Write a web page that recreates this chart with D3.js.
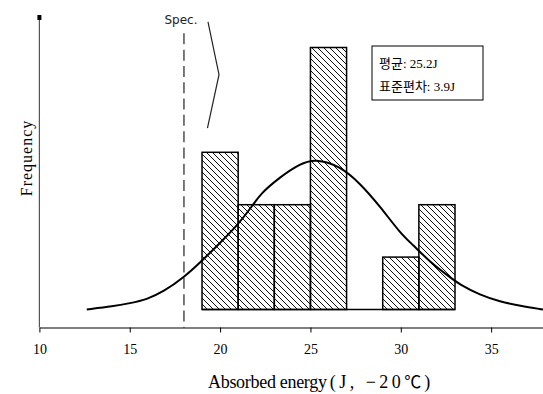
<!DOCTYPE html>
<html>
<head>
<meta charset="utf-8">
<script src="https://cdn.jsdelivr.net/npm/d3@7"></script>
<style>
  body { margin: 0; background: #fff; }
  svg { display: block; }
  .serif { font-family: "Liberation Serif", "DejaVu Serif", "Noto Sans CJK KR", serif; }
</style>
</head>
<body>
<script>
// histogram bins (J) and counts
var binStarts = [19, 21, 23, 25, 27, 29, 31];
var binWidth = 2;
var counts = [3, 2, 2, 5, 0, 1, 2];

// fitted curve (J, frequency)
var curveJ = [12.62, 14.09, 15.01, 15.94, 16.86, 17.96, 19.06, 19.99, 20.92, 21.84, 22.21, 23.32, 24.42, 25.25, 26.64, 27.74, 28.85, 29.96, 30.68, 31.61, 32.55, 33.28, 34.38, 35.49, 36.6, 37.87];
var curveF = [0, 0.06, 0.12, 0.19, 0.34, 0.60, 0.95, 1.27, 1.59, 2.0, 2.2, 2.53, 2.78, 2.88, 2.74, 2.41, 1.97, 1.46, 1.23, 0.91, 0.66, 0.47, 0.28, 0.15, 0.07, 0];

var xTicks = [10, 15, 20, 25, 30, 35];
var specValue = 18;
var statLines = ["평균: 25.2J", "표준편차: 3.9J"];

var width = 543, height = 394;

var svg = d3.select("body")
  .append("svg")
    .attr("width", width)
    .attr("height", height);

var x = d3.scaleLinear().domain([10, 37.87]).range([39.4, 543]);
var y = d3.scaleLinear().domain([0, 5]).range([309.5, 47.5]);
var axisY = 327.5;

// hatch pattern
var pat = svg.append("defs").append("pattern")
    .attr("id", "hatch")
    .attr("patternUnits", "userSpaceOnUse")
    .attr("width", 6)
    .attr("height", 6);
pat.append("path")
    .attr("d", "M-1,-1 L7,7 M-1,5 L1,7 M5,-1 L7,1")
    .style("stroke", "#111")
    .style("stroke-width", 1);

// bars
svg.selectAll("rect.bar")
  .data(binStarts.map(function(b, i) { return {b: b, c: counts[i]}; }).filter(function(d) { return d.c > 0; }))
  .enter().append("rect")
    .attr("class", "bar")
    .attr("x", function(d) { return x(d.b); })
    .attr("y", function(d) { return y(d.c); })
    .attr("width", function(d) { return x(d.b + binWidth) - x(d.b); })
    .attr("height", function(d) { return y(0) - y(d.c); })
    .style("fill", "url(#hatch)")
    .style("stroke", "#000")
    .style("stroke-width", 1.5);

// baseline under bins
svg.append("line")
    .attr("x1", x(binStarts[0]))
    .attr("x2", x(binStarts[binStarts.length - 1] + binWidth))
    .attr("y1", y(0)).attr("y2", y(0))
    .style("stroke", "#000")
    .style("stroke-width", 1.5);

// curve
var line = d3.line()
    .x(function(d, i) { return x(curveJ[i]); })
    .y(function(d) { return y(d); })
    .curve(d3.curveBasis);

svg.append("path")
    .datum(curveF)
    .attr("d", line)
    .style("fill", "none")
    .style("stroke", "#000")
    .style("stroke-width", 2);

// spec line
svg.append("line")
    .attr("x1", x(specValue)).attr("x2", x(specValue))
    .attr("y1", y(5.27)).attr("y2", axisY)
    .style("stroke", "#333")
    .style("stroke-width", 1.3)
    .style("stroke-dasharray", "11,5.3");

svg.append("text")
    .attr("x", x(specValue) - 3)
    .attr("y", 24)
    .attr("text-anchor", "middle")
    .style("font-family", "DejaVu Sans, sans-serif")
    .style("font-size", "12px")
    .style("fill", "#222")
    .text("Spec.");

// arrow chevron
var chev = [[19.33, 5.49], [19.94, 4.48], [19.30, 3.46]];
svg.append("path")
    .attr("d", d3.line().x(function(d) { return x(d[0]); }).y(function(d) { return y(d[1]); })(chev))
    .style("fill", "none")
    .style("stroke", "#222")
    .style("stroke-width", 1.2);

// x axis
var xAxis = svg.append("g")
    .attr("transform", "translate(0," + axisY + ")")
    .call(d3.axisBottom(x).tickValues(xTicks).tickSize(5).tickSizeOuter(0).tickPadding(12));
xAxis.select(".domain").style("stroke", "#000").style("stroke-width", 1.2);
xAxis.selectAll(".tick line").style("stroke", "#000");
xAxis.selectAll(".tick text")
    .style("font-family", "Liberation Serif, serif")
    .style("font-size", "14px")
    .style("fill", "#000");

// y axis
svg.append("line")
    .attr("x1", x(10)).attr("x2", x(10))
    .attr("y1", 17).attr("y2", axisY)
    .style("stroke", "#555")
    .style("stroke-width", 1.2);
svg.append("rect")
    .attr("x", x(10) - 2).attr("y", 15)
    .attr("width", 4).attr("height", 5)
    .style("fill", "#000");

// axis titles
svg.append("text")
    .attr("class", "serif")
    .attr("transform", "translate(32,158) rotate(-90)")
    .attr("text-anchor", "middle")
    .style("font-size", "16px")
    .style("letter-spacing", "1px")
    .text("Frequency");

var xl = svg.append("text")
    .attr("class", "serif")
    .attr("x", 208)
    .attr("y", 388)
    .style("font-size", "18px");
xl.append("tspan").style("letter-spacing", "-0.3px").text("Absorbed energy");
xl.append("tspan").attr("dx", 3).style("letter-spacing", "3.5px").text("(J, −20");
xl.append("tspan").style("font-family", "Noto Sans CJK KR, sans-serif").style("font-size", "17px").text("℃");
xl.append("tspan").attr("dx", 3).text(")");

// stats box
var box = svg.append("g").attr("transform", "translate(372,46)");
box.append("rect")
    .attr("width", 111).attr("height", 54)
    .style("fill", "#fff")
    .style("stroke", "#000")
    .style("stroke-width", 1);
box.selectAll("text")
  .data(statLines)
  .enter().append("text")
    .attr("class", "serif")
    .attr("x", 7)
    .attr("y", function(d, i) { return 22 + i * 22.5; })
    .style("font-size", "13px")
    .text(function(d) { return d; });
</script>
</body>
</html>
